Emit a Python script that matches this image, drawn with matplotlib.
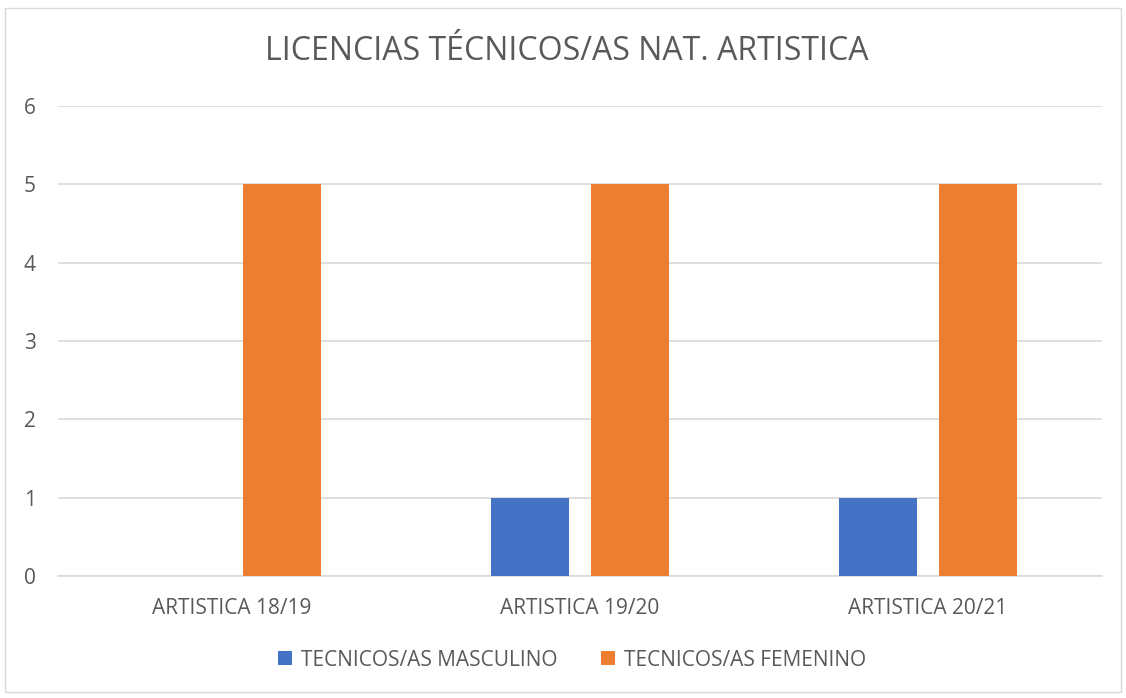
import matplotlib
matplotlib.use("Agg")
import matplotlib.pyplot as plt
from matplotlib.patches import Rectangle
import numpy as np

plt.rcParams['font.family'] = ['Open Sans', 'DejaVu Sans']

categories = ["ARTISTICA 18/19", "ARTISTICA 19/20", "ARTISTICA 20/21"]
masculino = [0, 1, 1]
femenino = [5, 5, 5]
series_names = ["TECNICOS/AS MASCULINO", "TECNICOS/AS FEMENINO"]
title = "LICENCIAS TÉCNICOS/AS NAT. ARTISTICA"

blue = "#4472C4"
orange = "#ED7D31"
txt = "#595959"

fig = plt.figure(figsize=(11.26, 6.98), dpi=100)
ax = fig.add_axes([58/1126, 1-576/698, 1044/1126, 470/698])

x = np.arange(len(categories))
w = 0.224
off = 0.144
ax.bar(x - off, masculino, w, color=blue, label=series_names[0], zorder=3)
ax.bar(x + off, femenino, w, color=orange, label=series_names[1], zorder=3)

ax.set_xlim(-0.5, len(categories) - 0.5)
ax.set_ylim(0, 6)
ax.set_yticks(range(0, 7))
ax.set_xticks(x)
ax.set_xticklabels(categories)
ax.yaxis.grid(True, color="#D9D9D9", linewidth=1.2, zorder=0)
ax.set_axisbelow(True)
for s in ["top", "right", "left"]:
    ax.spines[s].set_visible(False)
ax.spines["bottom"].set_color("#D9D9D9")
ax.spines["bottom"].set_linewidth(1.2)
ax.tick_params(axis="both", length=0, labelsize=15, colors=txt)
ax.tick_params(axis="y", pad=16)
ax.tick_params(axis="x", pad=16)

fig.text(0.5 + 4/1126, 1-52/698, title, ha="center", va="center", fontsize=23, color=txt)

leg = fig.legend(loc="center", bbox_to_anchor=(0.5 + 9/1126, 1-660/698), ncol=2, frameon=False,
                 fontsize=15, handlelength=0.68, handleheight=0.68, columnspacing=2.1,
                 handletextpad=0.43)
for t in leg.get_texts():
    t.set_color(txt)

fig.patches.append(Rectangle((5/1126, 1-692/698), 1116/1126, 684/698, transform=fig.transFigure,
                             fill=False, edgecolor="#D9D9D9", linewidth=1))

fig.savefig("out.png", dpi=100, facecolor="white")
